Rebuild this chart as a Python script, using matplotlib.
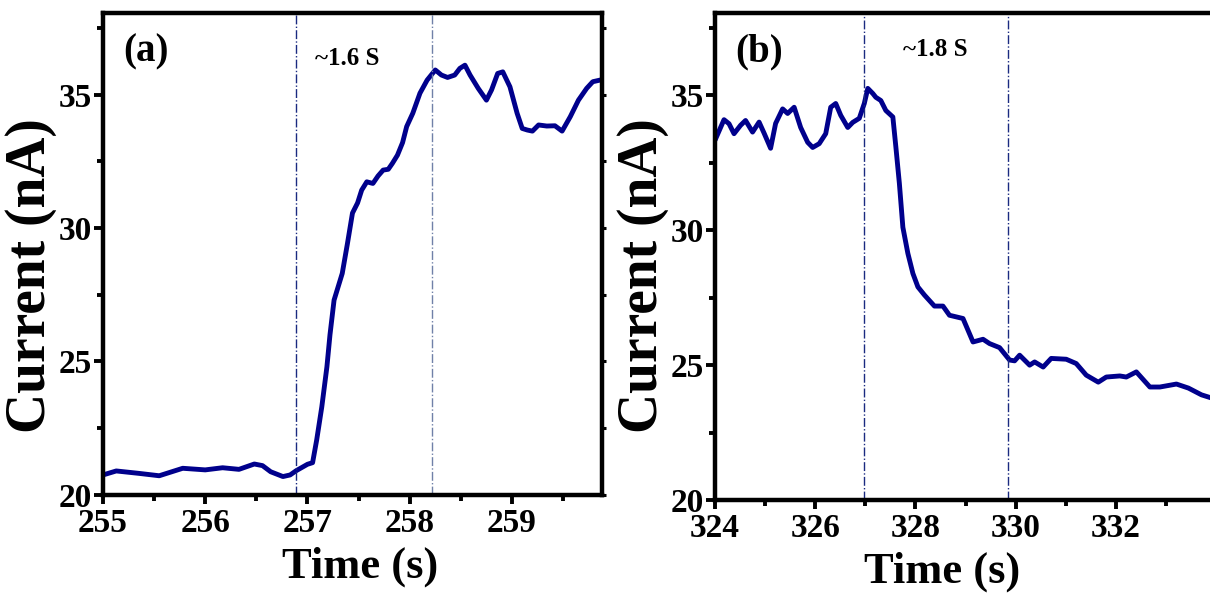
import matplotlib
matplotlib.use("Agg")
import matplotlib.pyplot as plt
from matplotlib.ticker import MultipleLocator

plt.rcParams['font.family'] = ['Liberation Serif', 'DejaVu Serif']
plt.rcParams['font.weight'] = 'bold'

# Panel (a) data
t_a = [255.0, 255.13, 255.35, 255.55, 255.78, 256.0, 256.17, 256.33, 256.48, 256.56,
       256.64, 256.76, 256.83, 256.89, 257.0, 257.05, 257.09, 257.14, 257.19, 257.22,
       257.26, 257.34, 257.39, 257.44, 257.49, 257.53, 257.58, 257.64, 257.69, 257.74,
       257.79, 257.83, 257.88, 257.93, 257.97, 258.03, 258.1, 258.17, 258.25, 258.31,
       258.37, 258.44, 258.49, 258.54, 258.59, 258.67, 258.75, 258.8, 258.86, 258.91,
       258.98, 259.05, 259.1, 259.15, 259.2, 259.26, 259.34, 259.42, 259.49, 259.57,
       259.65, 259.73, 259.79, 259.86]
i_a = [20.75, 20.9, 20.81, 20.72, 21.0, 20.94, 21.02, 20.96, 21.16, 21.1,
       20.87, 20.69, 20.75, 20.91, 21.15, 21.21, 22.06, 23.3, 24.8, 26.0,
       27.3, 28.3, 29.4, 30.56, 30.94, 31.42, 31.73, 31.67, 31.95, 32.17,
       32.2, 32.42, 32.73, 33.2, 33.8, 34.3, 35.05, 35.54, 35.92, 35.73,
       35.64, 35.73, 35.98, 36.1, 35.73, 35.23, 34.79, 35.17, 35.79, 35.85,
       35.29, 34.3, 33.73, 33.67, 33.63, 33.86, 33.82, 33.83, 33.63, 34.17,
       34.79, 35.23, 35.48, 35.54]

# Panel (b) data
t_b = [324.02, 324.18, 324.28, 324.38, 324.51, 324.61, 324.75, 324.88, 324.98, 325.11,
       325.21, 325.35, 325.45, 325.58, 325.71, 325.85, 325.95, 326.08, 326.21, 326.31,
       326.41, 326.51, 326.65, 326.75, 326.88, 326.98, 327.05, 327.15, 327.21, 327.31,
       327.41, 327.55, 327.61, 327.68, 327.75, 327.85, 327.95, 328.05, 328.18, 328.38,
       328.55, 328.68, 328.95, 329.15, 329.35, 329.48, 329.68, 329.88, 329.98, 330.08,
       330.28, 330.38, 330.55, 330.71, 331.01, 331.21, 331.41, 331.65, 331.81, 332.08,
       332.21, 332.41, 332.68, 332.88, 333.21, 333.45, 333.71, 333.88]
i_b = [33.42, 34.1, 33.95, 33.58, 33.89, 34.07, 33.64, 34.01, 33.6, 33.04,
       33.96, 34.5, 34.33, 34.56, 33.81, 33.26, 33.07, 33.21, 33.58, 34.56,
       34.7, 34.26, 33.81, 34.0, 34.15, 34.7, 35.26, 35.07, 34.93, 34.81,
       34.44, 34.2, 33.09, 31.74, 30.11, 29.14, 28.4, 27.9, 27.6, 27.19,
       27.19, 26.85, 26.73, 25.86, 25.96, 25.8, 25.65, 25.19, 25.16, 25.37,
       25.0, 25.12, 24.93, 25.25, 25.22, 25.06, 24.63, 24.37, 24.56, 24.6,
       24.56, 24.75, 24.19, 24.19, 24.3, 24.15, 23.9, 23.8]

marks_a = [256.89, 258.22]
marks_b = [326.98, 329.84]
label_a = "~1.6 S"
label_b = "~1.8 S"
yticks = [20, 25, 30, 35]
xticks_a = [255, 256, 257, 258, 259]
xticks_b = [324, 326, 328, 330, 332]

line_color = '#00008C'

fig = plt.figure(figsize=(12.10, 5.96), dpi=100)
ax_a = fig.add_axes([0.0851, 0.1695, 0.4124, 0.8085])
ax_b = fig.add_axes([0.5909, 0.161, 0.4091, 0.817])


def style(ax, right=True):
    for s in ['left', 'bottom', 'top', 'right']:
        ax.spines[s].set_linewidth(3.2)
    if not right:
        ax.spines['right'].set_visible(False)
    ax.tick_params(axis='both', which='major', direction='out', length=6.5, width=2.8,
                   labelsize=24, pad=1.5, top=False, right=False)
    ax.tick_params(axis='both', which='minor', direction='out', length=4, width=2.8,
                   top=False, right=False)
    ax.tick_params(axis='x', which='major', pad=3)
    if right:
        ax.tick_params(axis='y', which='both', right=True)
        for tk in ax.yaxis.get_major_ticks() + ax.yaxis.get_minor_ticks():
            tk.tick2line.set_markersize(3)
            tk.tick2line.set_markeredgewidth(2.2)
    for lab in ax.get_xticklabels() + ax.get_yticklabels():
        lab.set_fontweight('bold')
    for ln in ax.get_xticklines(minor=True) + ax.get_yticklines(minor=True) + \
            ax.get_xticklines() + ax.get_yticklines():
        ln.set_solid_capstyle('round')


ax_a.plot(t_a, i_a, color=line_color, lw=3.5, solid_joinstyle='round')
ax_a.axvline(marks_a[0], color='#1a2a80', lw=1.0, ls='-.')
ax_a.axvline(marks_a[1], color='#7080a8', lw=1.0, ls='-.')
ax_a.set_xlim(255, 259.88)
ax_a.set_xticks(xticks_a)
ax_a.xaxis.set_minor_locator(MultipleLocator(0.5))
ax_a.set_ylim(20, 38.05)
ax_a.set_yticks(yticks)
ax_a.yaxis.set_minor_locator(MultipleLocator(2.5))
style(ax_a, right=True)
ax_a.set_xlabel("Time (s)", fontsize=32, fontweight='bold')
ax_a.xaxis.set_label_coords(0.515, -0.106)
ax_a.set_ylabel("Current (nA)", fontsize=40, fontweight='bold')
ax_a.yaxis.set_label_coords(-0.092, 0.456)
ax_a.text(0.04, 0.92, "(a)", transform=ax_a.transAxes, fontsize=28,
          fontweight='bold', va='center', ha='left')
ax_a.text(0.425, 0.905, label_a, transform=ax_a.transAxes, fontsize=18,
          fontweight='bold', va='center', ha='left')

ax_b.plot(t_b, i_b, color=line_color, lw=3.5, solid_joinstyle='round')
ax_b.axvline(marks_b[0], color='#1a2a80', lw=1.0, ls='-.')
ax_b.axvline(marks_b[1], color='#1a2a80', lw=1.0, ls='-.')
ax_b.set_xlim(324, 333.88)
ax_b.set_xticks(xticks_b)
ax_b.xaxis.set_minor_locator(MultipleLocator(1))
ax_b.set_ylim(20, 38.05)
ax_b.set_yticks(yticks)
ax_b.yaxis.set_minor_locator(MultipleLocator(2.5))
style(ax_b, right=False)
ax_b.set_xlabel("Time (s)", fontsize=32, fontweight='bold')
ax_b.xaxis.set_label_coords(0.459, -0.105)
ax_b.set_ylabel("Current (nA)", fontsize=40, fontweight='bold')
ax_b.yaxis.set_label_coords(-0.093, 0.462)
ax_b.text(0.04, 0.92, "(b)", transform=ax_b.transAxes, fontsize=28,
          fontweight='bold', va='center', ha='left')
ax_b.text(0.38, 0.925, label_b, transform=ax_b.transAxes, fontsize=18,
          fontweight='bold', va='center', ha='left')

fig.savefig("out.png", dpi=100)
